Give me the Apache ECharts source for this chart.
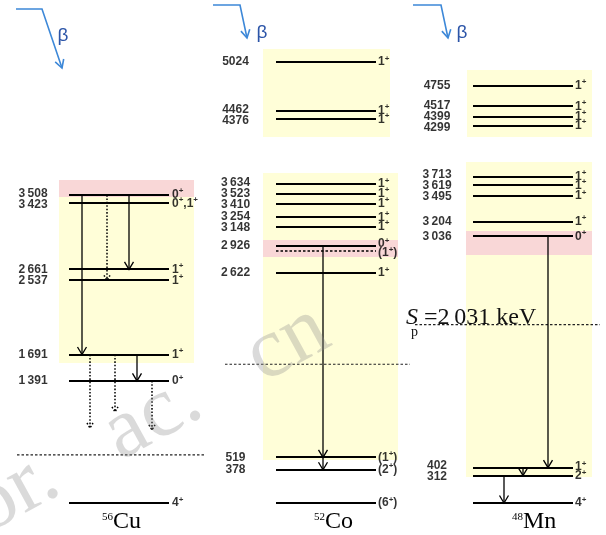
<!DOCTYPE html>
<html>
<head>
<meta charset="utf-8">
<script src="https://cdn.jsdelivr.net/npm/echarts@6/dist/echarts.min.js"></script>
<style>
html,body{margin:0;padding:0;background:#fff;}
#chart{width:606px;height:535px;}
</style>
</head>
<body>
<div id="chart"></div>
<script>
// ===================== DATA (energies in keV) =====================
const nucleusMass   = ['56', '52', '48'];
const nucleusSymbol = ['Cu', 'Co', 'Mn'];

// 56Cu
const cuEnergies       = [3508, 3423, 2661, 2537, 1691, 1391, 0];
const cuEnergyLabels   = ['3\u2009508', '3\u2009423', '2\u2009661', '2\u2009537', '1\u2009691', '1\u2009391', ''];
const cuSpins          = ['0+', '0+,1+', '1+', '1+', '1+', '0+', '4+'];
const cuLevelUncertain = [false, false, false, false, false, false, false];
const cuTransitions    = [[3508, 1691], [3508, 2537], [3508, 2661], [1691, 854], [1691, 1037], [1691, 1391], [1391, 832]];
const cuTransTentative = [false, true, false, true, true, false, true];
const cuBandRanges     = [[1595, 3486], [3486, 3680]];
const cuBandTypes      = ['GT', 'IAS'];
const cuSp             = 547;

// 52Co
const coEnergies       = [5024, 4462, 4376, 3634, 3523, 3410, 3254, 3148, 2926, 2870, 2622, 519, 378, 0];
const coEnergyLabels   = ['5024', '4462', '4376', '3\u2009634', '3\u2009523', '3\u2009410', '3\u2009254', '3\u2009148', '2\u2009926', '', '2\u2009622', '519', '378', ''];
const coSpins          = ['1+', '1+', '1+', '1+', '1+', '1+', '1+', '1+', '0+', '(1+)', '1+', '(1+)', '(2+)', '(6+)'];
const coLevelUncertain = [false, false, false, false, false, false, false, false, false, true, false, false, false, false];
const coTransitions    = [[2926, 519], [519, 378]];
const coTransTentative = [false, false];
const coBandRanges     = [[4170, 5172], [2996, 3759], [2802, 2996], [490, 2802]];
const coBandTypes      = ['GT', 'GT', 'IAS', 'GT'];
const coSp             = 1580;

// 48Mn
const mnEnergies       = [4755, 4517, 4399, 4299, 3713, 3619, 3495, 3204, 3036, 402, 312, 0];
const mnEnergyLabels   = ['4755', '4517', '4399', '4299', '3\u2009713', '3\u2009619', '3\u2009495', '3\u2009204', '3\u2009036', '402', '312', ''];
const mnSpins          = ['1+', '1+', '1+', '1+', '1+', '1+', '1+', '1+', '0+', '1+', '2+', '4+'];
const mnLevelUncertain = [false, false, false, false, false, false, false, false, false, false, false, false];
const mnTransitions    = [[3036, 402], [402, 312], [312, 0]];
const mnTransTentative = [false, false, false];
const mnBandRanges     = [[4170, 4933], [3099, 3885], [2825, 3099], [296, 2825]];
const mnBandTypes      = ['GT', 'GT', 'IAS', 'GT'];
const mnSp             = 2031;
const mnSpText         = '=2\u2009031 keV';

const watermarkText = 'or.   ac.   cn';

// ===================== LAYOUT / STYLE =====================
const W = 606, H = 535;
const Y_MIN = -365, Y_MAX = 5730;
const KEV_PER_PX = (Y_MAX - Y_MIN) / H;
const YELLOW = '#FFFED8', PINK = '#F9D7D7';
const SANS = '"Liberation Sans", Arial, sans-serif';
const SERIF = '"Liberation Serif", "Times New Roman", serif';

const panels = [
  { E: cuEnergies, labels: cuEnergyLabels, spins: cuSpins, unc: cuLevelUncertain, tr: cuTransitions, tent: cuTransTentative, bands: cuBandRanges, btypes: cuBandTypes, sp: cuSp },
  { E: coEnergies, labels: coEnergyLabels, spins: coSpins, unc: coLevelUncertain, tr: coTransitions, tent: coTransTentative, bands: coBandRanges, btypes: coBandTypes, sp: coSp },
  { E: mnEnergies, labels: mnEnergyLabels, spins: mnSpins, unc: mnLevelUncertain, tr: mnTransitions, tent: mnTransTentative, bands: mnBandRanges, btypes: mnBandTypes, sp: mnSp }
];
const layouts = [
  { line: [69, 169], label: 33, spin: 172, boxes: [[59, 194], [59, 194]], arrowX: [82, 107, 129, 90, 115, 137, 152], sp: [17, 205], symX: 113 },
  { line: [276, 376], label: 235.5, spin: 378, boxes: [[263, 390], [263, 398], [263, 398], [263, 398]], arrowX: [323, 323], sp: [225, 410], symX: 325 },
  { line: [473, 573], label: 437, spin: 575, boxes: [[467, 592], [466, 592], [466, 592], [466, 592]], arrowX: [548, 523, 504], sp: [415, 600], symX: 523 }
];

// spread labels (in keV units) so that they keep a minimum gap
function spread(vals, gap) {
  const idx = vals.map((v, i) => i).sort((a, b) => vals[b] - vals[a]);
  let clusters = idx.map(i => ({ ids: [i], c: vals[i] }));
  let merged = true;
  while (merged) {
    merged = false;
    for (let k = 0; k < clusters.length - 1; k++) {
      const A = clusters[k], B = clusters[k + 1];
      const aLow = A.c - gap * (A.ids.length - 1) / 2;
      const bHigh = B.c + gap * (B.ids.length - 1) / 2;
      if (aLow - bHigh < gap - 1e-6) {
        const ids = A.ids.concat(B.ids);
        const c = ids.reduce((s, i) => s + vals[i], 0) / ids.length;
        clusters.splice(k, 2, { ids, c });
        merged = true;
        break;
      }
    }
  }
  const out = vals.slice();
  clusters.forEach(cl => cl.ids.forEach((i, k) => { out[i] = cl.c + gap * ((cl.ids.length - 1) / 2 - k); }));
  return out;
}

function spinRich(s) { return s.replace(/\+/g, '{s|+}'); }

const series = [];
panels.forEach((P, k) => {
  const L = layouts[k];
  // bands
  series.push({
    type: 'custom', z: 1, silent: true,
    data: P.bands.map((r, i) => [L.boxes[i][0], L.boxes[i][1], r[0], r[1], P.btypes[i] === 'IAS' ? 1 : 0]),
    encode: { x: [0, 1], y: [2, 3] },
    renderItem: (params, api) => {
      const a = api.coord([api.value(0), api.value(3)]);
      const b = api.coord([api.value(1), api.value(2)]);
      return { type: 'rect', shape: { x: a[0], y: a[1], width: b[0] - a[0], height: b[1] - a[1] },
        style: { fill: api.value(4) ? PINK : YELLOW } };
    }
  });
  // proton separation threshold
  series.push({
    type: 'custom', z: 3, silent: true,
    data: [[L.sp[0], L.sp[1], P.sp]],
    encode: { x: [0, 1], y: 2 },
    renderItem: (params, api) => {
      const a = api.coord([api.value(0), api.value(2)]);
      const b = api.coord([api.value(1), api.value(2)]);
      return { type: 'line', shape: { x1: a[0], y1: a[1], x2: b[0], y2: b[1] },
        style: { stroke: '#222', lineWidth: 1.2, lineDash: [2.5, 2] } };
    }
  });
  // levels
  series.push({
    type: 'custom', z: 4, silent: true,
    data: P.E.map((e, i) => [L.line[0], L.line[1], e, P.unc[i] ? 1 : 0]),
    encode: { x: [0, 1], y: 2 },
    renderItem: (params, api) => {
      const a = api.coord([api.value(0), api.value(2)]);
      const b = api.coord([api.value(1), api.value(2)]);
      const dashed = api.value(3) === 1;
      return { type: 'line', shape: { x1: a[0], y1: Math.round(a[1]), x2: b[0], y2: Math.round(b[1]) },
        style: { stroke: '#000', lineWidth: dashed ? 1.6 : 2, lineDash: dashed ? [2.5, 2] : null } };
    }
  });
  // transitions
  series.push({
    type: 'custom', z: 5, silent: true,
    data: P.tr.map((t, i) => [L.arrowX[i], t[0], t[1], P.tent[i] ? 1 : 0]),
    encode: { x: 0, y: [1, 2] },
    renderItem: (params, api) => {
      const x = api.value(0);
      const a = api.coord([x, api.value(1)]);
      const b = api.coord([x, api.value(2)]);
      const d = api.value(3) === 1;
      const hw = d ? 3 : 4.5, hh = d ? 5 : 7.5;
      const style = { stroke: '#000', lineWidth: d ? 1.5 : 1.3, lineDash: d ? [1.6, 1.8] : null, fill: null };
      return { type: 'group', children: [
        { type: 'line', shape: { x1: a[0], y1: a[1], x2: b[0], y2: b[1] }, style: style },
        { type: 'polyline', shape: { points: [[b[0] - hw, b[1] - hh], [b[0], b[1]], [b[0] + hw, b[1] - hh]] }, style: style }
      ] };
    }
  });
  // energy labels
  const li = P.labels.map((s, i) => i).filter(i => P.labels[i] !== '');
  const lpos = spread(li.map(i => P.E[i]), 11 * KEV_PER_PX);
  series.push({
    type: 'scatter', z: 6, silent: true, symbolSize: 1,
    itemStyle: { color: 'rgba(0,0,0,0)' },
    data: li.map((i, j) => ({ value: [L.label, lpos[j]], label: { formatter: P.labels[i] } })),
    label: { show: true, position: 'inside', color: '#000', fontFamily: SANS, fontWeight: 'bold', fontSize: 12 }
  });
  // spin labels
  const spos = spread(P.E, 9 * KEV_PER_PX);
  series.push({
    type: 'scatter', z: 6, silent: true, symbolSize: 1,
    itemStyle: { color: 'rgba(0,0,0,0)' },
    data: P.E.map((e, i) => ({ value: [L.spin, spos[i]], label: { formatter: spinRich(P.spins[i]) } })),
    label: { show: true, position: 'inside', align: 'left', verticalAlign: 'middle', color: '#000',
      fontFamily: SANS, fontWeight: 'bold', fontSize: 12, lineHeight: 15,
      rich: { s: { fontFamily: SANS, fontWeight: 'bold', fontSize: 8, lineHeight: 5, verticalAlign: 'top', color: '#000' } } }
  });
});

// ===================== decorations =====================
const graphics = [];
function head(tip, from, len, half) {
  const dx = tip[0] - from[0], dy = tip[1] - from[1], d = Math.hypot(dx, dy), ux = dx / d, uy = dy / d;
  const bx = tip[0] - ux * len, by = tip[1] - uy * len;
  return [[bx - uy * half, by + ux * half], tip, [bx + uy * half, by - ux * half]];
}
const betaPaths = [
  { pts: [[16, 9], [42, 9], [62, 68]], beta: [63, 36] },
  { pts: [[213, 5], [240, 5], [247, 38]], beta: [262, 33] },
  { pts: [[413, 5], [441, 5], [448, 38]], beta: [462, 33] }
];
betaPaths.forEach(b => {
  graphics.push({ type: 'polyline', z: 10, shape: { points: b.pts }, style: { stroke: '#3d88d8', lineWidth: 1.6, fill: null } });
  graphics.push({ type: 'polyline', z: 10, shape: { points: head(b.pts[2], b.pts[1], 8, 4.5) }, style: { stroke: '#3d88d8', lineWidth: 1.6, fill: null } });
  graphics.push({ type: 'text', z: 10, x: b.beta[0], y: b.beta[1],
    style: { text: '\u03B2', font: '19px ' + SANS, fill: '#2c55a8', align: 'center', verticalAlign: 'middle' } });
});
// nucleus names
nucleusMass.forEach((m, k) => {
  const L = layouts[k];
  graphics.push({ type: 'text', z: 10, x: L.symX, y: 517, style: { text: m, font: '11px ' + SERIF, fill: '#000', align: 'right', verticalAlign: 'middle' } });
  graphics.push({ type: 'text', z: 10, x: L.symX, y: 522, style: { text: nucleusSymbol[k], font: '24px ' + SERIF, fill: '#000', align: 'left', verticalAlign: 'middle' } });
});
// Sp label
graphics.push({ type: 'text', z: 10, x: 406, y: 318, style: { text: 'S', font: 'italic 24px ' + SERIF, fill: '#111', align: 'left', verticalAlign: 'middle' } });
graphics.push({ type: 'text', z: 10, x: 411, y: 332, style: { text: 'p', font: '14px ' + SERIF, fill: '#111', align: 'left', verticalAlign: 'middle' } });
graphics.push({ type: 'text', z: 10, x: 424, y: 318, style: { text: mnSpText, font: '24px ' + SERIF, fill: '#111', align: 'left', verticalAlign: 'middle' } });
// watermark
graphics.push({ type: 'text', z: 20, x: -4, y: 552, rotation: 0.5,
  style: { text: watermarkText, font: '86px ' + SERIF, fill: 'rgba(140,140,140,0.32)', align: 'left', verticalAlign: 'bottom' } });

const chart = echarts.init(document.getElementById('chart'), null, { renderer: 'canvas' });
chart.setOption({
  animation: false,
  backgroundColor: '#fff',
  grid: { left: 0, right: 0, top: 0, bottom: 0 },
  xAxis: { type: 'value', min: 0, max: W, show: false },
  yAxis: { type: 'value', min: Y_MIN, max: Y_MAX, show: false },
  graphic: { elements: graphics },
  series: series
});
</script>
</body>
</html>
